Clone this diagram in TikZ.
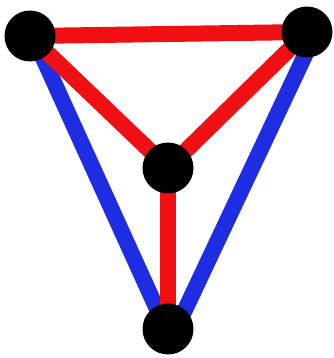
\documentclass[tikz,border=0pt]{standalone}
\usetikzlibrary{backgrounds}
\begin{document}
\begin{tikzpicture}[x=1pt,y=1pt,
  vertex/.style={circle,fill=black,inner sep=0pt,minimum size=51pt},
  rededge/.style={line width=16pt,draw={rgb,255:red,240;green,16;blue,20}},
  blueedge/.style={line width=16pt,draw={rgb,255:red,30;green,45;blue,225}}]
\useasboundingbox (0,0) rectangle (333,358);
\node[vertex] (tl) at (30,322) {};
\node[vertex] (tr) at (307,326) {};
\node[vertex] (c) at (168,190) {};
\node[vertex] (b) at (168,29) {};
\begin{scope}[on background layer]
\path[blueedge] ([xshift=3pt]tl.center) -- ([xshift=-2pt]b.center);
\path[blueedge] ([xshift=9pt]tr.center) -- ([xshift=8pt]b.center);
\path[rededge] (tl.center) -- (tr.center);
\path[rededge] (tl.center) -- (c.center);
\path[rededge] (tr.center) -- (c.center);
\path[rededge] (c.center) -- (b.center);
\end{scope}
\end{tikzpicture}
\end{document}
